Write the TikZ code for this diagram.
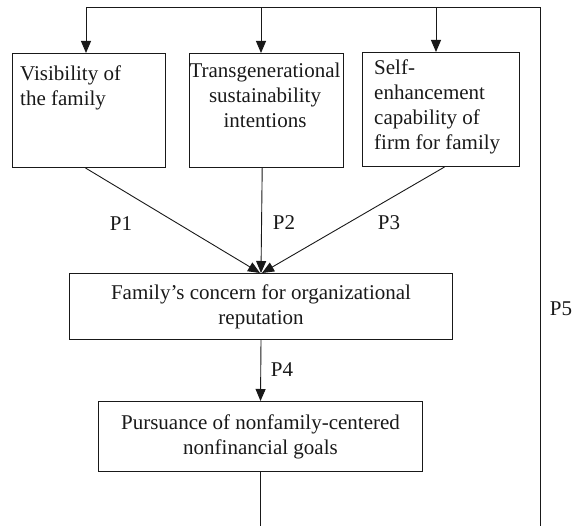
\documentclass[tikz,border=0pt]{standalone}
\usepackage{fontspec}
\setmainfont{Liberation Serif}
\usetikzlibrary{arrows.meta}
\begin{document}
\begin{tikzpicture}[x=1pt,y=-1pt,
  box/.style={draw=black!90, line width=1pt, inner sep=0pt, anchor=north west},
  txt/.style={font=\fontsize{21}{25}\selectfont, inner sep=0pt, text=black!90},
  arr/.style={draw=black!90, line width=0.9pt, -{Triangle[length=12pt,width=10pt]}},
  ln/.style={draw=black!90, line width=0.9pt}]
\useasboundingbox (0,0) rectangle (572,526);
% boxes
\node[box, minimum width=153pt, minimum height=114pt] (b1) at (12,53) {};
\node[box, minimum width=154pt, minimum height=114pt] (b2) at (189,53) {};
\node[box, minimum width=157pt, minimum height=114pt] (b3) at (362,52) {};
\node[box, txt, align=center, minimum width=383pt, minimum height=66pt] (b4) at (69,273) {Family{\char"27}s concern for organizational\\reputation};
\node[box, txt, align=center, minimum width=324pt, minimum height=70pt] (b5) at (98,401) {Pursuance of nonfamily-centered\\nonfinancial goals};
% box texts
\node[txt, anchor=north west, align=left] (t1) at (20,66) {Visibility of\\the family};
\node[txt, anchor=north, align=center] (t2) at (265,63) {Transgenerational\\sustainability\\intentions};
\node[txt, anchor=north west, align=left] (t3) at (374,60) {Self-\\enhancement\\capability of\\firm for family};
% feedback loop
\coordinate (tl) at (86,7.5);
\coordinate (tm) at (261,7.5);
\coordinate (tk) at (436,7.5);
\coordinate (tr) at (540,7.5);
\coordinate (br) at (540,526);
\draw[ln] (tl) -- (tr) -- (br);
\draw[ln] (b5.south) -- (b5.south |- br);
\draw[arr] (tl) -- (tl |- b1.north);
\draw[arr] (tm) -- (tm |- b2.north);
\draw[arr] (tk) -- (tk |- b3.north);
% propositions
\draw[arr] ([xshift=-3.5pt]b1.south) -- ([xshift=-1pt]b4.north);
\draw[arr] ([xshift=-4.3pt]b2.south) -- (b4.north);
\draw[arr] ([xshift=3.5pt]b3.south) -- ([xshift=1pt]b4.north);
\draw[arr] (b4.south) -- (b5.north);
% labels
\node[txt] (p1) at (121,224) {P1};
\node[txt] (p2) at (284,223) {P2};
\node[txt] (p3) at (389,223) {P3};
\node[txt] (p4) at (282,370) {P4};
\node[txt] (p5) at (561,309) {P5};
\end{tikzpicture}
\end{document}
